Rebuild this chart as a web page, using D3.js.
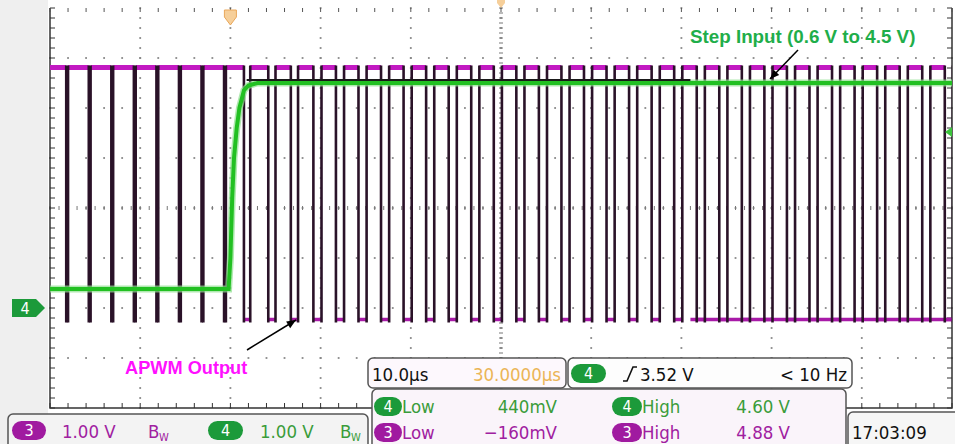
<!DOCTYPE html>
<html><head><meta charset="utf-8">
<script src="https://cdn.jsdelivr.net/npm/d3@7/dist/d3.min.js"></script>
<style>
html,body{margin:0;padding:0;background:#fff;overflow:hidden}
svg{display:block}
.ro{font-family:"Liberation Sans Narrow","DejaVu Sans Condensed","Roboto Condensed",sans-serif;font-size:18.5px}
</style></head><body>
<script>
// ---------- data ----------
const timeDivs = [-20,-10,0,10,20,30,40,50,60,70,80];      // µs, 10 µs/div
const voltDivs = [-2,-1,0,1,2,3,4,5,6];                       // V, 1 V/div (ch4 ground ref)
// APWM output (ch3): low pulses [fall, rise] in µs
const pwmLowPulses = [
  [-18.2,-18.0],[-15.7,-15.5],[-13.2,-13.0],[-10.7,-10.5],[-8.2,-8.0],[-5.7,-5.5],[-3.2,-3.0],[-0.7,-0.5],
  [1.5,2.2],
  [4.2,5.0],[6.7,7.5],[9.2,10.1],[11.7,12.6],[14.2,15.1],[16.7,17.6],[19.2,20.1],[21.7,22.6],
  [24.2,25.1],[26.7,27.6],[29.2,30.1],[31.7,32.6],[34.2,35.1],[36.7,37.6],[39.2,40.1],[41.7,42.6],
  [44.2,45.1],[46.7,47.6],[49.2,50.1],[51.7,52.6],[54.2,55.1],[56.7,57.6],[59.2,60.1],[61.7,62.6],
  [64.2,65.1],[66.7,67.6],[69.2,70.1],[71.7,72.6],[74.2,75.1],[76.7,77.6],[79.2,80.1]
];
const ch3High = 4.88, ch3Low = -0.16, ch3Offset = -0.07;
const lowPersistT = [51.0, 80];
// Step input (ch4)
const stepT = [-20,-0.2,0,0.2,0.4,0.7,1.0,1.5,2.0,3.0,80];
const stepV = [0.38,0.38,1.0,2.2,3.0,3.6,4.0,4.35,4.45,4.5,4.5];
const refTraceT = [1.8, 51.0];
const refTraceV = 4.56;
const trigLevel = 3.52;
const chScale = ["1.00 V","1.00 V"];
const timebase = "10.0\u00b5s", hPos = "30.0000\u00b5s";
const meas = [
  {ch:"4", name:"Low", val:"440mV", hname:"High", hval:"4.60 V"},
  {ch:"3", name:"Low", val:"\u2212160mV", hname:"High", hval:"4.88 V"}
];
const clock = "17:03:09";

// ---------- setup ----------
const W=955,H=444;
const svg=d3.select("body").append("svg").attr("width",W).attr("height",H);
const x=d3.scaleLinear().domain([-20,80]).range([50,952]);
const y=d3.scaleLinear().domain([-2,6]).range([408,8]);
const y3=v=>y(v+ch3Offset);
const GREEN="#1c9a3a", TXTG="#3a9c3a", TXTM="#a020a0";

svg.append("rect").attr("x",0).attr("y",0).attr("width",48).attr("height",H).attr("fill","#efefef");
svg.append("rect").attr("x",50).attr("y",8).attr("width",902).attr("height",400).attr("fill","#fff");

// grid
const g=svg.append("g");
const dx=(x(10)-x(0))/5, dy=(y(0)-y(1))/5;
timeDivs.slice(1,-1).forEach(t=>{
  d3.range(y(6),y(-2)+0.1,dy).forEach(yy=>g.append("rect").attr("x",x(t)-0.9).attr("y",yy-0.9).attr("width",1.8).attr("height",1.8).attr("fill","#888"));
});
voltDivs.slice(1,-1).forEach(v=>{
  d3.range(x(-20),x(80)+0.1,dx).forEach(xx=>g.append("rect").attr("x",xx-0.9).attr("y",y(v)-0.9).attr("width",1.8).attr("height",1.8).attr("fill","#888"));
});
d3.range(y(6),y(-2)+0.1,dy/2).forEach(yy=>g.append("line").attr("x1",x(30)-2).attr("x2",x(30)+2).attr("y1",yy).attr("y2",yy).attr("stroke","#777").attr("stroke-width",1));
d3.range(x(-20),x(80)+0.1,dx/2).forEach(xx=>g.append("line").attr("x1",xx).attr("x2",xx).attr("y1",y(2)-2).attr("y2",y(2)+2).attr("stroke","#777").attr("stroke-width",1));
// frame
g.append("path").attr("d",`M${x(-20)},${y(6)}V${y(-2)}H${x(80)}V${y(6)}`).attr("fill","none").attr("stroke","#333").attr("stroke-width",1.5);
d3.range(y(6),y(-2)+0.1,dy).forEach(yy=>{
  g.append("line").attr("x1",x(-20)).attr("x2",x(-20)+5).attr("y1",yy).attr("y2",yy).attr("stroke","#333");
  g.append("line").attr("x1",x(80)).attr("x2",x(80)-5).attr("y1",yy).attr("y2",yy).attr("stroke","#333");
});
d3.range(x(-20),x(80)+0.1,dx).forEach(xx=>{
  g.append("line").attr("x1",xx).attr("x2",xx).attr("y1",y(-2)).attr("y2",y(-2)-5).attr("stroke","#333");
  g.append("line").attr("x1",xx).attr("x2",xx).attr("y1",y(6)).attr("y2",y(6)+4).attr("stroke","#555");
});

// ---------- traces ----------
svg.append("clipPath").attr("id","cp").append("rect").attr("x",50).attr("y",0).attr("width",902).attr("height",408);
const tr=svg.append("g").attr("clip-path","url(#cp)");
let hi=[], lo=[], edges=[];
let prev=-20;
pwmLowPulses.forEach(([f,r])=>{hi.push([prev,f]); lo.push([f,r]); edges.push(f,r); prev=r;});
hi.push([prev,80]);
lo.push(lowPersistT);
tr.selectAll(".hi").data(hi).join("line").attr("x1",d=>x(d[0])).attr("x2",d=>x(d[1])).attr("y1",y3(ch3High)).attr("y2",y3(ch3High)).attr("stroke","#c21ac2").attr("stroke-width",5);
tr.selectAll(".lo").data(lo).join("line").attr("x1",d=>x(d[0])).attr("x2",d=>x(d[1])).attr("y1",y3(ch3Low)).attr("y2",y3(ch3Low)).attr("stroke","#a81aa8").attr("stroke-width",3.5);
tr.selectAll(".ed").data(edges).join("line").attr("x1",d=>x(d)).attr("x2",d=>x(d)).attr("y1",y3(ch3High)-2).attr("y2",y3(ch3Low)+3).attr("stroke","#2a1228").attr("stroke-width",2.6);

// step input
const line=d3.line().x(d=>x(d[0])).y(d=>y(d[1]));
const stepData=stepT.map((t,i)=>[t,stepV[i]]);
tr.append("path").attr("d",line(stepData)).attr("fill","none").attr("stroke","#8fe08f").attr("stroke-width",7).attr("opacity",0.7);
tr.append("path").attr("d",line(stepData)).attr("fill","none").attr("stroke","#22c022").attr("stroke-width",4);
tr.append("line").attr("x1",x(refTraceT[0])).attr("x2",x(refTraceT[1])).attr("y1",y(refTraceV)).attr("y2",y(refTraceV)).attr("stroke","#1a1a1a").attr("stroke-width",2.2);

// markers
svg.append("path").attr("d",`M${x(0)-6},10 h12 v7 l-6,8 l-6,-8z`).attr("fill","#f6cf9a").attr("stroke","#e9a75a").attr("stroke-width",1);
svg.append("path").attr("d",`M${x(30)-4},0 h8 v3 l-4,5 l-4,-5z`).attr("fill","#f6cf9a");
svg.append("path").attr("d",`M12,${y(0)-9} h24 l9,9 l-9,9 h-24z`).attr("fill",GREEN);
svg.append("text").attr("x",25).attr("y",y(0)+6).attr("text-anchor","middle").attr("fill","#fff").attr("class","ro").style("font-size","16px").text("4");
svg.append("path").attr("d",`M${x(80)-7},${y(trigLevel)} l7,-5 v10z`).attr("fill","#3cc43c");

// annotations
svg.append("text").attr("x",690).attr("y",43).attr("fill","#1fae4a").attr("font-family","Liberation Sans,Arial,sans-serif").attr("font-weight","bold").attr("font-size","18.8px").text("Step Input (0.6 V to 4.5 V)");
svg.append("text").attr("x",125).attr("y",374).attr("fill","#ff10ff").attr("font-family","Liberation Sans,Arial,sans-serif").attr("font-weight","bold").attr("font-size","18.2px").text("APWM Output");
const arrow=(x1,y1,x2,y2)=>{
  svg.append("line").attr("x1",x1).attr("y1",y1).attr("x2",x2).attr("y2",y2).attr("stroke","#000").attr("stroke-width",1.5);
  const a=Math.atan2(y2-y1,x2-x1),L=10,w=0.4;
  svg.append("path").attr("d",`M${x2},${y2}L${x2-L*Math.cos(a-w)},${y2-L*Math.sin(a-w)}L${x2-L*Math.cos(a+w)},${y2-L*Math.sin(a+w)}z`).attr("fill","#000");
};
arrow(798,50,770,79);
arrow(247,350,296,320);

// ---------- readouts ----------
const box=(x0,y0,w,h,fill)=>svg.append("rect").attr("x",x0).attr("y",y0).attr("width",w).attr("height",h).attr("rx",5).attr("fill",fill).attr("stroke","#555").attr("stroke-width",1.5);
const badge=(x0,y0,w,h,col,t)=>{svg.append("rect").attr("x",x0).attr("y",y0).attr("width",w).attr("height",h).attr("rx",h/2).attr("fill",col);
  svg.append("text").attr("x",x0+w/2).attr("y",y0+h-4).attr("text-anchor","middle").attr("fill","#fff").attr("class","ro").style("font-size","16px").text(t);};
const txt=(x0,y0,t,col,anchor)=>svg.append("text").attr("x",x0).attr("y",y0).attr("fill",col).attr("class","ro").attr("text-anchor",anchor||"start").text(t);

box(8,414,360,36,"#f3f3f3");
badge(12,421,34,19,"#a01aa0","3"); txt(62,438,chScale[0],TXTM); txt(148,438,"B",TXTM); txt(159,441,"W",TXTM).style("font-size","11px");
badge(208,421,35,19,GREEN,"4"); txt(260,438,chScale[1],TXTG); txt(340,438,"B",TXTG); txt(351,441,"W",TXTG).style("font-size","11px");

box(368,358,198,30,"#fdf8fd");
txt(372,381,timebase,"#111"); txt(561,381,hPos,"#ebb556","end");
box(568,358,284,30,"#fdfdfd");
badge(571,364,35,19,GREEN,"4");
svg.append("path").attr("d","M623,381 h4 l6,-14 h4").attr("fill","none").attr("stroke","#111").attr("stroke-width",1.6);
txt(640,381,trigLevel.toFixed(2)+" V","#111"); txt(847,381,"< 10 Hz","#111","end");
box(372,389,474,60,"#faf4fa");
meas.forEach((m,i)=>{
  const yy=413+i*26, col=m.ch==="4"?TXTG:TXTM, bc=m.ch==="4"?GREEN:"#a01aa0";
  badge(374,yy-16,28,19,bc,m.ch); txt(402,yy,m.name,col); txt(557,yy,m.val,col,"end");
  badge(612,yy-16,30,19,bc,m.ch); txt(642,yy,m.hname,col); txt(790,yy,m.hval,col,"end");
});
box(848,412,120,40,"#f6f6f6");
txt(852,439,clock,"#111");
</script>
</body></html>
